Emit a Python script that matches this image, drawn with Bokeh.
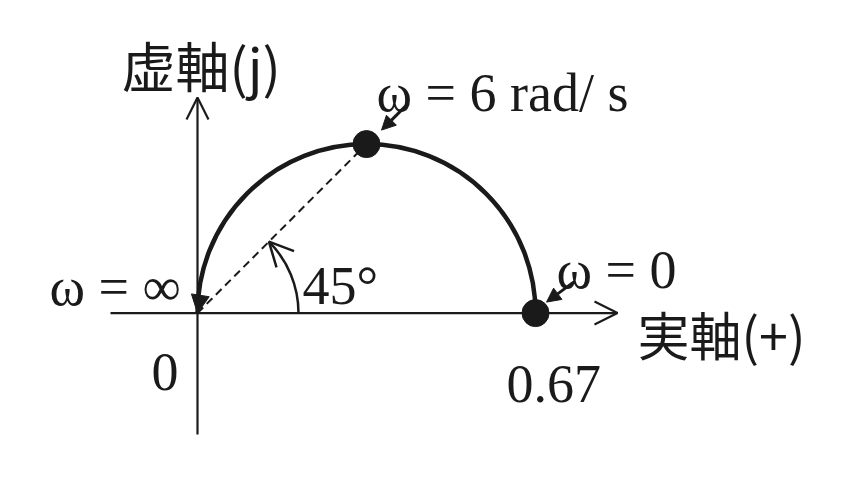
import numpy as np
from bokeh.plotting import figure
from bokeh.models import Range1d, Arrow, OpenHead, NormalHead
from bokeh.core.properties import value
from bokeh.embed import file_html
from bokeh.resources import INLINE

# ---------------- data ----------------
GAIN = 0.67                       # |G| at omega = 0 (real-axis intercept)
POINT_NAMES = ["ω = 0", "ω = 6 rad/ s"]
POINT_RE = [0.67, 0.335]          # marked points of the locus
POINT_IM = [0.0, 0.335]
ANGLE_DEG = 45                    # phase angle at omega = 6 rad/s
REAL_TICKS = [0.0, 0.67]
REAL_TICK_LABELS = ["0", "0.67"]
AXIS_LABELS = ["実軸(+)", "虚軸(j)"]
INF_LABEL = "ω = ∞"
ANGLE_LABEL = "45°"

# ---------------- layout ----------------
W, H = 859, 478
S = 504.5                 # pixels per unit (same on both axes)
OX, OY = 197.0, 312.6     # origin position inside the figure (px from left / top)
INK = "#1a1a1a"


def d(px, py):
    """picture pixel -> data coordinates"""
    return (px - OX) / S, (OY - py) / S


p = figure(width=W, height=H, output_backend="svg", toolbar_location=None,
           x_axis_location=None, y_axis_location=None, min_border=0,
           x_range=Range1d(-OX / S, (W - OX) / S),
           y_range=Range1d(-(H - OY) / S, OY / S),
           background_fill_color="white", border_fill_color="white")
p.grid.visible = False
p.outline_line_color = None

# axes with open arrow heads
x0, _ = d(110, 0)
x1, _ = d(617, 0)
p.add_layout(Arrow(end=OpenHead(size=23, line_width=2.2, line_color=INK),
                   x_start=x0, y_start=0, x_end=x1, y_end=0,
                   line_width=2.2, line_color=INK))
_, y0 = d(0, 434)
_, y1 = d(0, 97)
p.add_layout(Arrow(end=OpenHead(size=22, line_width=2.2, line_color=INK),
                   x_start=0, y_start=y0, x_end=0, y_end=y1,
                   line_width=2.2, line_color=INK))

# Nyquist locus (semicircle)
p.arc(x=[GAIN / 2], y=[0], radius=GAIN / 2, start_angle=0, end_angle=np.pi,
      line_width=4.5, line_color=INK)
th = np.radians(162)
p.add_layout(Arrow(end=NormalHead(size=18, fill_color=INK, line_color=INK, line_width=1),
                   x_start=GAIN / 2 * (1 + np.cos(th)), y_start=GAIN / 2 * np.sin(th),
                   x_end=0, y_end=0, line_alpha=0))

# dashed vector to omega = 6 point
p.line([0, POINT_RE[1]], [0, POINT_IM[1]], line_dash="8 5", line_width=2, line_color=INK)

# angle arc
r = 101 / S
a = np.radians(ANGLE_DEG)
p.arc(x=[0], y=[0], radius=r, start_angle=0, end_angle=a, line_width=2.5, line_color=INK)
a0 = np.radians(ANGLE_DEG - 4)
p.add_layout(Arrow(end=OpenHead(size=24, line_width=2.5, line_color=INK),
                   x_start=r * np.cos(a0), y_start=r * np.sin(a0),
                   x_end=r * np.cos(a), y_end=r * np.sin(a), line_alpha=0))

# marked points
p.scatter(POINT_RE, POINT_IM, size=27, color=INK)

# pointer arrows (pixel offsets from the points)
ptr = [((38, 31), (11, 11)), ((41, 40), (15, 14))]
for (xr, yi), ((sx, sy), (ex, ey)) in zip(zip(POINT_RE, POINT_IM), ptr):
    p.add_layout(Arrow(end=NormalHead(size=14, fill_color=INK, line_color=INK, line_width=1),
                       x_start=xr + sx / S, y_start=yi + sy / S,
                       x_end=xr + ex / S, y_end=yi + ey / S,
                       line_width=3, line_color=INK))

SERIF = value("Liberation Serif")
CJK = value("Noto Sans CJK JP")


def label(txt, px, py, font=SERIF, size="54px", align="left"):
    x, y = d(px, py)
    p.text(x=[x], y=[y], text=[txt], text_font=font, text_font_size=size,
           text_align=align, text_baseline="alphabetic", text_color=INK)


label(POINT_NAMES[1], 376, 92)
label(POINT_NAMES[0], 556, 269)
label(INF_LABEL, 49, 286)
label(ANGLE_LABEL, 302, 285)
label(REAL_TICK_LABELS[0], 151, 371)
label(REAL_TICK_LABELS[1], 506, 383)
label(AXIS_LABELS[1], 121, 64, font=CJK, size="54px")
label(AXIS_LABELS[0], 637, 333, font=CJK, size="52px")

open("out.html", "w").write(file_html(p, INLINE))
